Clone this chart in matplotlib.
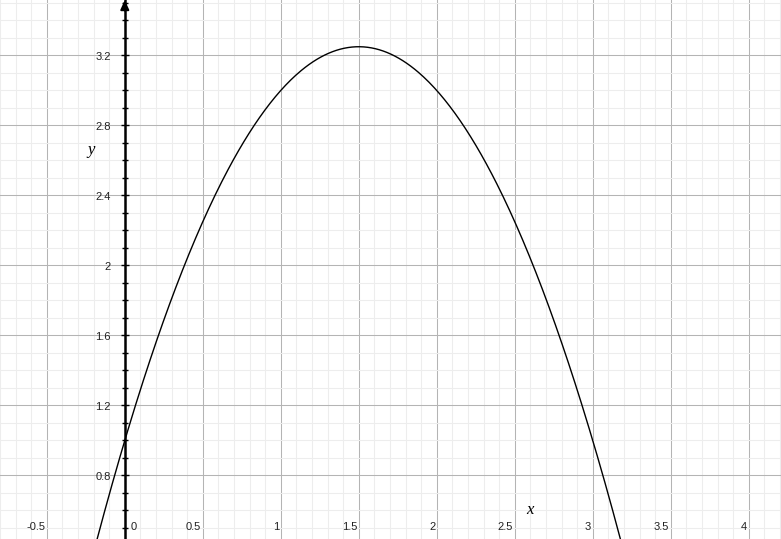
import numpy as np
import matplotlib
matplotlib.use("Agg")
import matplotlib.pyplot as plt
from matplotlib.ticker import MultipleLocator

# ---- data ----
coeffs = [-1.0, 3.0, 1.0]          # y = -x^2 + 3x + 1
x_range = (-0.8, 4.207)
y_range = (0.437, 3.517)
x_tick_vals = [-0.5, 0.5, 1, 1.5, 2, 2.5, 3, 3.5, 4]
x_tick_labels = ["-0.5", "0.5", "1", "1.5", "2", "2.5", "3", "3.5", "4"]
y_tick_vals = [0.8, 1.2, 1.6, 2.0, 2.4, 2.8, 3.2]
y_tick_labels = ["0.8", "1.2", "1.6", "2", "2.4", "2.8", "3.2"]

fig = plt.figure(figsize=(7.81, 5.39), dpi=100)
ax = fig.add_axes([0, 0, 1, 1])
ax.set_xlim(*x_range)
ax.set_ylim(*y_range)

# grid
ax.xaxis.set_major_locator(MultipleLocator(0.5))
ax.xaxis.set_minor_locator(MultipleLocator(0.1))
ax.yaxis.set_major_locator(MultipleLocator(0.4))
ax.yaxis.set_minor_locator(MultipleLocator(0.1))
ax.grid(which="minor", color="#ededed", linewidth=0.75, zorder=0)
ax.grid(which="major", color="#b4b4b4", linewidth=0.75, zorder=0)
ax.set_axisbelow(True)

for s in ["top", "right", "bottom"]:
    ax.spines[s].set_visible(False)
ax.spines["left"].set_position(("data", 0))
ax.spines["left"].set_linewidth(1.8)
ax.spines["left"].set_color("black")
ax.spines["left"].set_zorder(5)

ax.tick_params(axis="x", which="both", length=0, labelbottom=False)
ax.tick_params(axis="y", which="major", direction="inout", length=6, width=1.0,
               color="black", labelleft=False)
ax.tick_params(axis="y", which="minor", direction="inout", length=4, width=1.0,
               color="black")

# arrow head on y axis
ax.annotate("", xy=(0, y_range[1]), xycoords="data",
            xytext=(0, y_range[1] - 0.06), textcoords="data",
            arrowprops=dict(arrowstyle="-|>,head_length=0.55,head_width=0.25",
                            color="black", lw=1.5, shrinkA=0, shrinkB=0),
            zorder=6)

# curve
xs = np.linspace(x_range[0], x_range[1], 600)
ys = np.polyval(coeffs, xs)
ax.plot(xs, ys, color="black", linewidth=1.0, zorder=4)

# tick labels
tfont = dict(fontsize=8, family="Liberation Sans", color="#222222")
for v, lab in zip(x_tick_vals, x_tick_labels):
    ax.annotate(lab, xy=(v, 0), xycoords=("data", "axes fraction"),
                xytext=(-1.5, 12), textcoords="offset pixels",
                ha="right", va="center", **tfont)
ax.annotate("0", xy=(0, 0), xycoords=("data", "axes fraction"),
            xytext=(6, 12), textcoords="offset pixels",
            ha="left", va="center", **tfont)
for v, lab in zip(y_tick_vals, y_tick_labels):
    ax.annotate(lab, xy=(0, v), xycoords="data",
                xytext=(-14, -2), textcoords="offset pixels",
                ha="right", va="center", **tfont)

# axis names
lfont = dict(fontsize=12, family="Liberation Serif", style="italic", color="black")
ax.annotate("y", xy=(0, 2.66), xycoords="data", xytext=(-34, 0),
            textcoords="offset pixels", ha="center", va="center", **lfont)
ax.annotate("x", xy=(2.598, 0), xycoords=("data", "axes fraction"),
            xytext=(0, 29), textcoords="offset pixels",
            ha="center", va="center", **lfont)

fig.savefig("out.png", dpi=100)
